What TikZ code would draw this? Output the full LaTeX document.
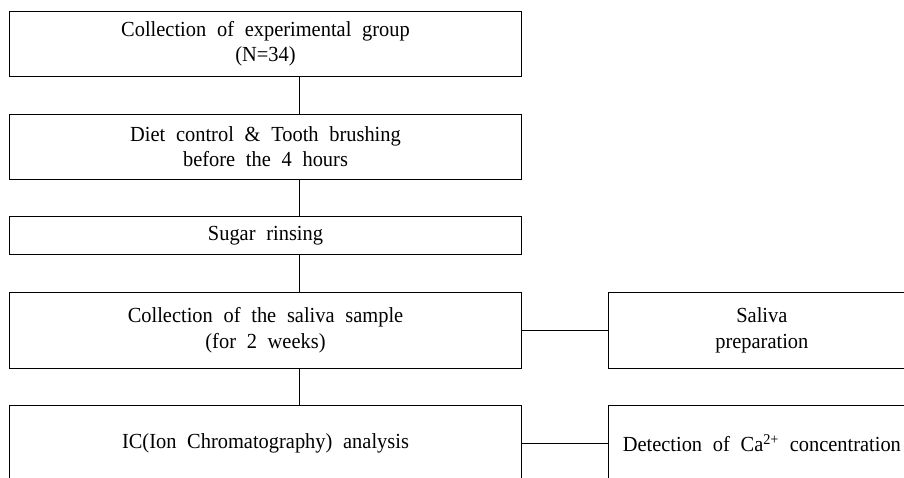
\documentclass[tikz,border=0pt]{standalone}
\usepackage{fontspec}
\setmainfont[WordSpace=2.1,FakeStretch=0.95]{Liberation Serif}
\begin{document}
\begin{tikzpicture}[x=1pt,y=-1pt,
  box/.style={draw=black, line width=0.9pt, rectangle, align=center, inner sep=0pt,
    font=\fontsize{21.5}{25.5}\selectfont},
  lbox/.style={box, minimum width=512pt},
  rbox/.style={box, minimum width=306.3pt},
  link/.style={draw=black, line width=0.9pt}]
\useasboundingbox (0,0) rectangle (904,477);
\clip (0,0) rectangle (904,477);
\fill[white] (0,0) rectangle (904,477);
\node[lbox, minimum height=64.5pt] (b1) at (265.5,43.75) {Collection of experimental group\\(N=34)};
\node[lbox, minimum height=65pt] (b2) at (265.5,146.5) {Diet control \& Tooth brushing\\before the 4 hours};
\node[lbox, minimum height=37.8pt] (b3) at (265.5,235.6) {Sugar rinsing};
\node[lbox, minimum height=75.5pt] (b4) at (265.5,330.25) {Collection of the saliva sample\\(for 2 weeks)};
\node[lbox, minimum height=75.5pt] (b5) at (265.5,443.25) {IC(Ion Chromatography) analysis};
\node[rbox, minimum height=75.5pt] (r1) at (761.85,330.25) {Saliva\\preparation};
\node[rbox, minimum height=75.5pt] (r2) at (761.85,443.25) {Detection of Ca\textsuperscript{2+} concentration};
\coordinate (v) at (299,0);
\draw[link] (b1.south -| v) -- (b2.north -| v);
\draw[link] (b2.south -| v) -- (b3.north -| v);
\draw[link] (b3.south -| v) -- (b4.north -| v);
\draw[link] (b4.south -| v) -- (b5.north -| v);
\draw[link] (b4.east) -- (r1.west);
\draw[link] (b5.east) -- (r2.west);
\end{tikzpicture}
\end{document}
